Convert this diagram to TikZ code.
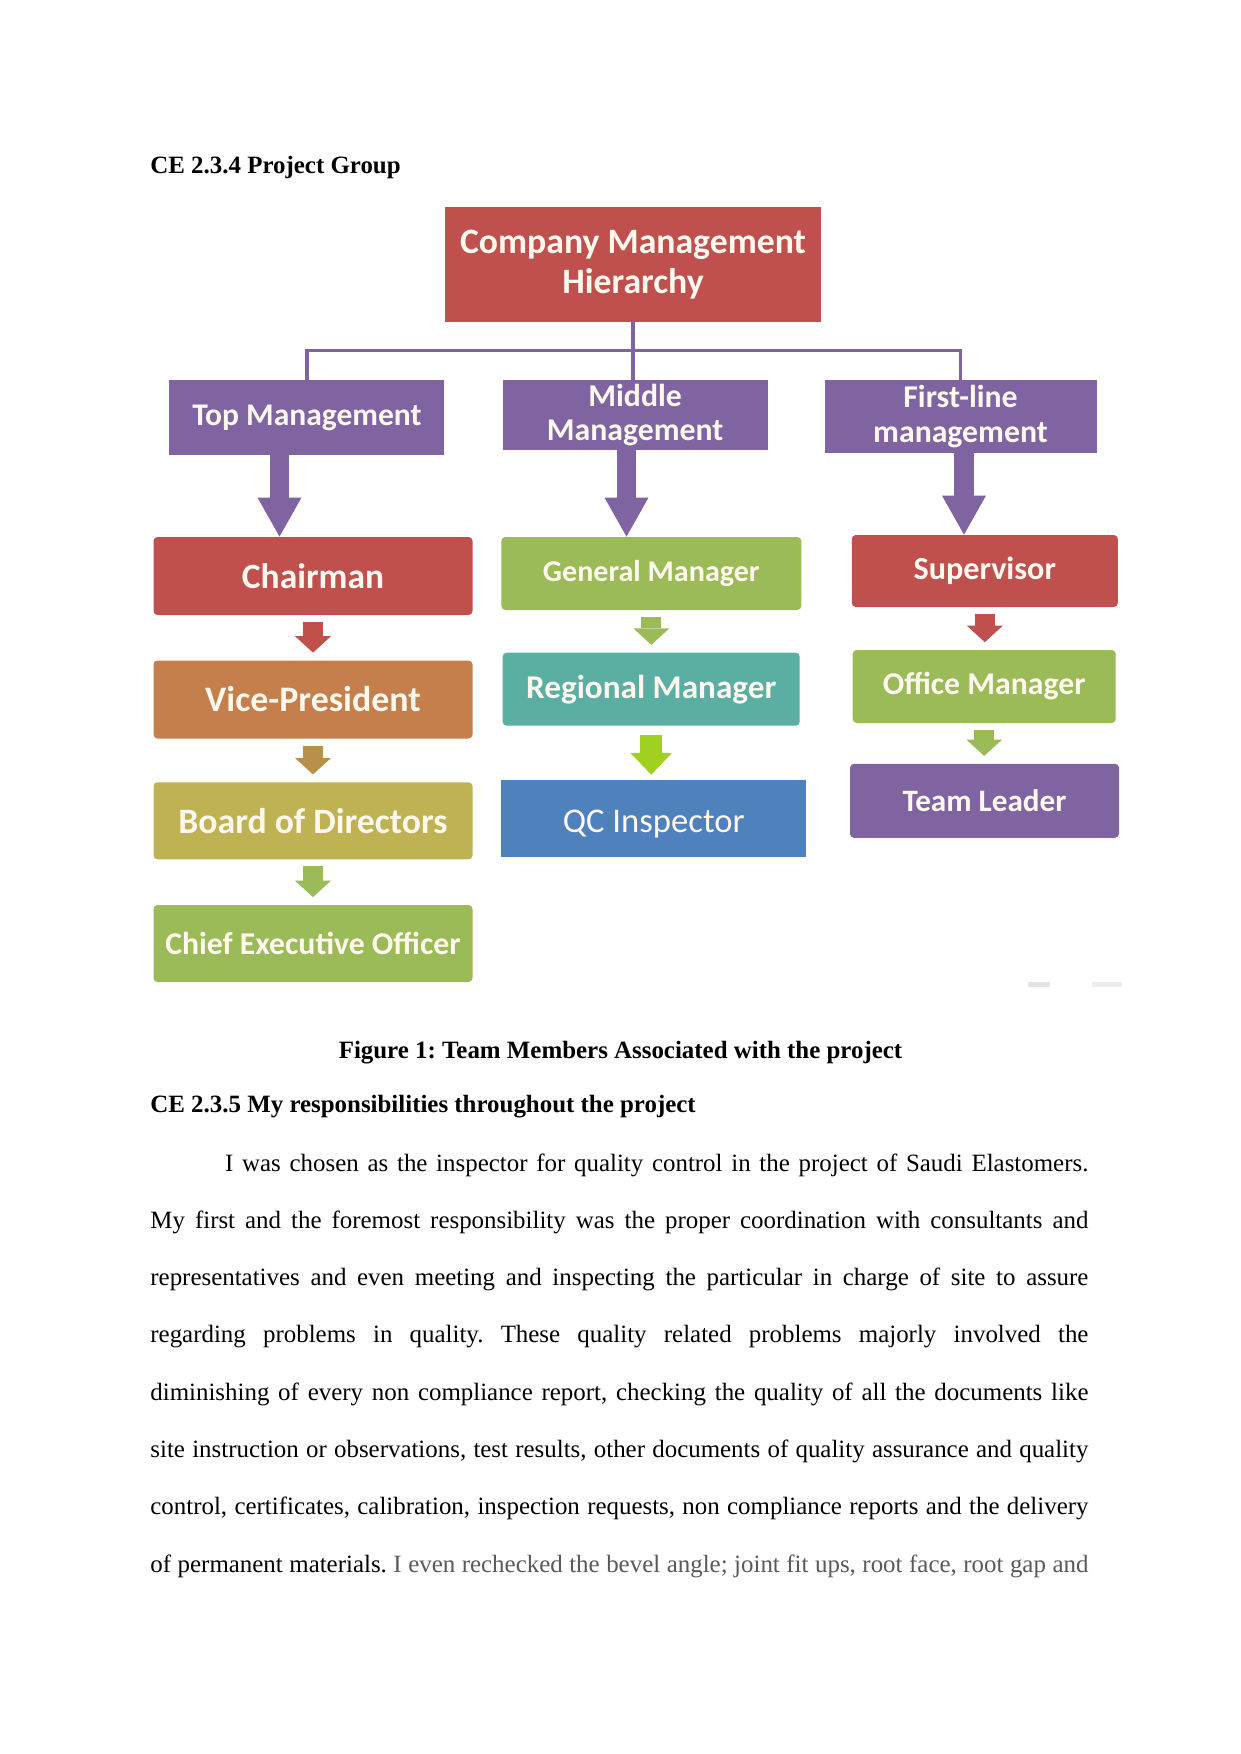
\documentclass[tikz,border=0pt]{standalone}
\usepackage{fontspec}
\setmainfont{Liberation Serif}
\newfontfamily\boxfont{Carlito}
\usetikzlibrary{arrows.meta}
\frenchspacing

\newlength{\px}
\setlength{\px}{0.1693mm}

\definecolor{hred}{HTML}{C0504D}
\definecolor{hpurple}{HTML}{8064A2}
\definecolor{hgreen}{HTML}{9BBB59}
\definecolor{horange}{HTML}{C47F4C}
\definecolor{hgold}{HTML}{BFB253}
\definecolor{hteal}{HTML}{5AAEA2}
\definecolor{hblue}{HTML}{4F81BD}
\definecolor{hbrown}{HTML}{B8904A}
\definecolor{hlime}{HTML}{A0D020}
\definecolor{boxtext}{HTML}{FFF8EE}
\definecolor{fadetext}{HTML}{595959}

\tikzset{fs/.style={font=\boxfont\bfseries\fontsize{#1}{#1}\selectfont}}

\begin{document}
\begin{tikzpicture}[x=\px,y=-\px]
\tikzstyle{box}=[rectangle, inner sep=0pt, text=boxtext, align=center]
\tikzstyle{lowbox}=[box, rounded corners=1.9pt]
\tikzstyle{linkline}=[draw=hpurple, line width=1.7pt]
\tikzstyle{bigarrow}=[line width=9.6pt, -{Triangle[width=21.2pt,length=18.8pt,line width=0pt]}]
\tikzstyle{smallarrow}=[line width=9.6pt, shorten <=3.2pt, shorten >=3.6pt, -{Triangle[width=17.3pt,length=7.9pt,line width=0pt]}]
\tikzstyle{headtext}=[font=\fontsize{12}{14}\selectfont\bfseries, inner sep=0pt]
\tikzstyle{bodytext}=[font=\fontsize{12}{27.6}\selectfont, inner sep=0pt, text width=158.8mm, align=justify]

\path[use as bounding box, fill=white] (0,0) rectangle (1241,1754);

% Heading
\node[headtext, anchor=base west] (head1) at (150,173) {CE 2.3.4 Project Group};

% Top of the chart
\node[box, fill=hred, minimum width=376*\px, minimum height=115*\px, fs=17.2] (title) at (633,264.5) {Company Management\\[2pt]Hierarchy};
\node[box, fill=hpurple, minimum width=275*\px, minimum height=75*\px, fs=15.2] (top) at (306.9,417.5) {Top Management};
\node[box, fill=hpurple, minimum width=265*\px, minimum height=70*\px, fs=15.3] (mid) at (635.1,415) {Middle\\[1.5pt]Management};
\node[box, fill=hpurple, minimum width=272*\px, minimum height=73*\px, fs=15.3] (first) at (960.5,416.5) {First-line\\[1.5pt]management};

\coordinate (bar) at (633,350.7);
\draw[linkline] (title.south) -- (title.south |- mid.north);
\draw[linkline] (top.north) |- (bar) -| (first.north);

% Left column
\node[lowbox, fill=hred, minimum width=319*\px, minimum height=78*\px, fs=17.1] (chair) at (313,576) {Chairman};
\node[lowbox, fill=horange, minimum width=319*\px, minimum height=78*\px, fs=17.3] (vp) at (313,699.5) {Vice-President};
\node[lowbox, fill=hgold, minimum width=319*\px, minimum height=77*\px, fs=17.2] (board) at (313,820.8) {Board of Directors};
\node[lowbox, fill=hgreen, minimum width=319*\px, minimum height=77*\px, fs=15.3] (ceo) at (313,943.5) {Chief Executive Officer};

% Middle column
\node[lowbox, fill=hgreen, minimum width=300*\px, minimum height=73*\px, fs=14.5] (gm) at (651.3,573.5) {General Manager};
\node[lowbox, fill=hteal, minimum width=297*\px, minimum height=73*\px, fs=16] (rm) at (651.2,689.2) {Regional Manager};
\node[box, fill=hblue, minimum width=305*\px, minimum height=77*\px, font=\boxfont\fontsize{16.7}{18}\selectfont] (qc) at (653.8,818) {\rule{0pt}{17pt}QC Inspector};

% Right column
\node[lowbox, fill=hred, minimum width=266*\px, minimum height=72*\px, fs=15.5] (sup) at (984.8,571) {Supervisor};
\node[lowbox, fill=hgreen, minimum width=263*\px, minimum height=73*\px, fs=15.3] (om) at (984.2,686.5) {Office Manager};
\node[lowbox, fill=hpurple, minimum width=269*\px, minimum height=74*\px, fs=15] (tl) at (984.5,800.8) {Team Leader};

% Block arrows
\coordinate (ax1) at (279.5,0);
\coordinate (ax2) at (626.5,0);
\coordinate (ax3) at (964,0);
\draw[bigarrow, hpurple] (top.south -| ax1) -- (chair.north -| ax1);
\draw[bigarrow, hpurple] (mid.south -| ax2) -- (gm.north -| ax2);
\draw[bigarrow, hpurple] (first.south -| ax3) -- (sup.north -| ax3);

\draw[smallarrow, hred] (chair.south) -- (vp.north);
\draw[smallarrow, hbrown] (vp.south) -- (board.north);
\draw[smallarrow, hgreen] (board.south) -- (ceo.north);
\draw[smallarrow, hgreen] (gm.south) -- (gm.south |- rm.north);
\draw[hlime, line width=10.4pt, shorten <=4.1pt, shorten >=2.1pt, -{Triangle[width=20pt,length=10.5pt,line width=0pt]}] (rm.south) -- (rm.south |- qc.north);
\draw[smallarrow, hred] (sup.south) -- (sup.south |- om.north);
\draw[smallarrow, hgreen] (om.south) -- (om.south |- tl.north);

% faint marks left over in the picture
\fill[gray!22] (1028,982) rectangle (1050,987);
\fill[gray!14] (1092,982) rectangle (1122,987);

% Caption and text
\node[headtext, anchor=base] (cap) at (620.5,1058.8) {Figure 1: Team Members Associated with the project};
\node[headtext, anchor=base west] (head2) at (150,1112.5) {CE 2.3.5 My responsibilities throughout the project};

\node[bodytext, anchor=base west] (para) at (150,1171) {\rightskip=0pt \parfillskip=0pt \hyphenpenalty=10000 \tolerance=9999
\hspace*{36pt}I was chosen as the inspector for quality control in the project of Saudi Elastomers.\linebreak
My first and the foremost responsibility was the proper coordination with consultants and\linebreak
representatives and even meeting and inspecting the particular in charge of site to assure\linebreak
regarding problems in quality. These quality related problems majorly involved the\linebreak
diminishing of every non compliance report, checking the quality of all the documents like\linebreak
site instruction or observations, test results, other documents of quality assurance and quality\linebreak
control, certificates, calibration, inspection requests, non compliance reports and the delivery\linebreak
of permanent materials. \textcolor{fadetext}{I even rechecked the bevel angle; joint fit ups, root face, root gap and}\par};
\end{tikzpicture}
\end{document}
